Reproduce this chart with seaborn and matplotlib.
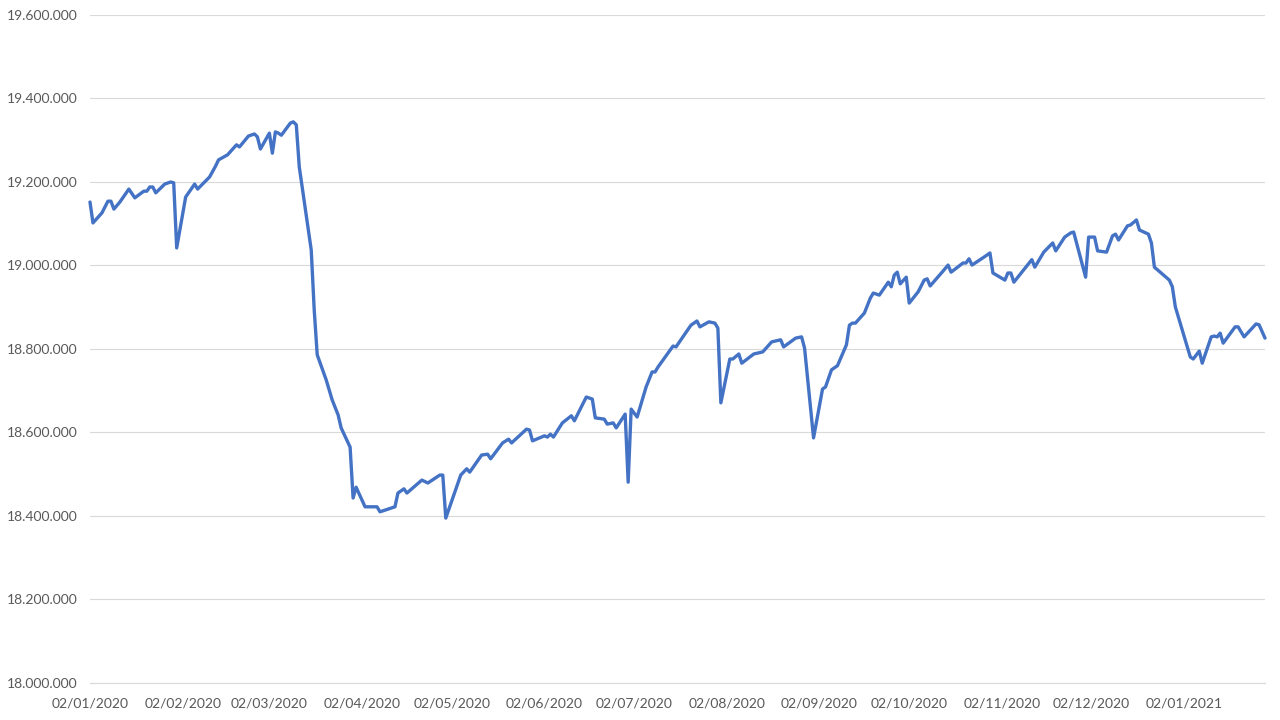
import pandas as pd
import matplotlib
matplotlib.use("Agg")
import matplotlib.pyplot as plt
import matplotlib.dates as mdates
import matplotlib.ticker as mticker
import seaborn as sns

# Values (vertices of the line)
dates = [
    "2020-01-02", "2020-01-03", "2020-01-06", "2020-01-08", "2020-01-09", "2020-01-10",
    "2020-01-12", "2020-01-15", "2020-01-17", "2020-01-20", "2020-01-21", "2020-01-22",
    "2020-01-23", "2020-01-24", "2020-01-27", "2020-01-29", "2020-01-30", "2020-01-31",
    "2020-02-03", "2020-02-06", "2020-02-07", "2020-02-11", "2020-02-13", "2020-02-14",
    "2020-02-17", "2020-02-20", "2020-02-21", "2020-02-24", "2020-02-26", "2020-02-27",
    "2020-02-28", "2020-03-02", "2020-03-03", "2020-03-04", "2020-03-05", "2020-03-06",
    "2020-03-09", "2020-03-10", "2020-03-11", "2020-03-12", "2020-03-16", "2020-03-17",
    "2020-03-18", "2020-03-21", "2020-03-23", "2020-03-25", "2020-03-26", "2020-03-29",
    "2020-03-30", "2020-03-31", "2020-04-03", "2020-04-07", "2020-04-08", "2020-04-13",
    "2020-04-14", "2020-04-16", "2020-04-17", "2020-04-22", "2020-04-24", "2020-04-28",
    "2020-04-29", "2020-04-30", "2020-05-05", "2020-05-07", "2020-05-08", "2020-05-12",
    "2020-05-14", "2020-05-15", "2020-05-19", "2020-05-21", "2020-05-22", "2020-05-27",
    "2020-05-28", "2020-05-29", "2020-06-02", "2020-06-03", "2020-06-04", "2020-06-05",
    "2020-06-08", "2020-06-11", "2020-06-12", "2020-06-16", "2020-06-18", "2020-06-19",
    "2020-06-22", "2020-06-23", "2020-06-25", "2020-06-26", "2020-06-29", "2020-06-30",
    "2020-07-01", "2020-07-03", "2020-07-06", "2020-07-08", "2020-07-09", "2020-07-10",
    "2020-07-15", "2020-07-16", "2020-07-21", "2020-07-23", "2020-07-24", "2020-07-27",
    "2020-07-29", "2020-07-30", "2020-07-31", "2020-08-03", "2020-08-04", "2020-08-06",
    "2020-08-07", "2020-08-11", "2020-08-14", "2020-08-17", "2020-08-20", "2020-08-21",
    "2020-08-25", "2020-08-27", "2020-08-28", "2020-08-31", "2020-09-03", "2020-09-04",
    "2020-09-06", "2020-09-08", "2020-09-11", "2020-09-12", "2020-09-13", "2020-09-14",
    "2020-09-17", "2020-09-19", "2020-09-20", "2020-09-22", "2020-09-25", "2020-09-26",
    "2020-09-27", "2020-09-28", "2020-09-29", "2020-10-01", "2020-10-02", "2020-10-05",
    "2020-10-07", "2020-10-08", "2020-10-09", "2020-10-13", "2020-10-15", "2020-10-16",
    "2020-10-20", "2020-10-21", "2020-10-22", "2020-10-23", "2020-10-27", "2020-10-29",
    "2020-10-30", "2020-11-03", "2020-11-04", "2020-11-05", "2020-11-06", "2020-11-12",
    "2020-11-13", "2020-11-16", "2020-11-19", "2020-11-20", "2020-11-23", "2020-11-25",
    "2020-11-26", "2020-11-30", "2020-12-01", "2020-12-03", "2020-12-04", "2020-12-07",
    "2020-12-09", "2020-12-10", "2020-12-11", "2020-12-14", "2020-12-15", "2020-12-17",
    "2020-12-18", "2020-12-21", "2020-12-22", "2020-12-23", "2020-12-28", "2020-12-29",
    "2020-12-30", "2021-01-04", "2021-01-05", "2021-01-07", "2021-01-08", "2021-01-11",
    "2021-01-12", "2021-01-13", "2021-01-14", "2021-01-15", "2021-01-19", "2021-01-20",
    "2021-01-22", "2021-01-26", "2021-01-27", "2021-01-29",
]

values = [
    19152000, 19102000, 19126000, 19154000, 19154000, 19135000,
    19152000, 19183000, 19162000, 19178000, 19178000, 19188000,
    19188000, 19174000, 19195000, 19200000, 19198000, 19042000,
    19164000, 19195000, 19183000, 19212000, 19238000, 19253000,
    19265000, 19289000, 19284000, 19310000, 19315000, 19308000,
    19279000, 19317000, 19269000, 19320000, 19317000, 19312000,
    19341000, 19344000, 19337000, 19236000, 19037000, 18893000,
    18786000, 18726000, 18678000, 18642000, 18611000, 18565000,
    18443000, 18469000, 18422000, 18422000, 18410000, 18422000,
    18455000, 18465000, 18455000, 18486000, 18479000, 18498000,
    18498000, 18395000, 18498000, 18513000, 18505000, 18546000,
    18548000, 18537000, 18575000, 18584000, 18575000, 18608000,
    18606000, 18580000, 18592000, 18589000, 18596000, 18589000,
    18623000, 18640000, 18628000, 18685000, 18680000, 18635000,
    18632000, 18620000, 18623000, 18611000, 18644000, 18481000,
    18656000, 18637000, 18709000, 18745000, 18745000, 18757000,
    18807000, 18805000, 18857000, 18867000, 18853000, 18865000,
    18862000, 18850000, 18671000, 18776000, 18776000, 18788000,
    18766000, 18788000, 18793000, 18817000, 18822000, 18805000,
    18826000, 18829000, 18802000, 18587000, 18704000, 18709000,
    18750000, 18760000, 18810000, 18857000, 18862000, 18862000,
    18886000, 18922000, 18934000, 18929000, 18960000, 18949000,
    18977000, 18984000, 18956000, 18972000, 18910000, 18937000,
    18965000, 18968000, 18951000, 18984000, 19001000, 18984000,
    19006000, 19006000, 19016000, 19001000, 19020000, 19030000,
    18982000, 18965000, 18982000, 18982000, 18960000, 19014000,
    18996000, 19032000, 19054000, 19035000, 19068000, 19078000,
    19080000, 18972000, 19068000, 19068000, 19035000, 19032000,
    19071000, 19075000, 19061000, 19095000, 19097000, 19109000,
    19085000, 19075000, 19054000, 18996000, 18965000, 18949000,
    18901000, 18781000, 18776000, 18795000, 18766000, 18829000,
    18831000, 18829000, 18838000, 18814000, 18853000, 18853000,
    18829000, 18860000, 18858000, 18826000,
]

# monthly tick positions (2nd of each month) and y range
tick_dates = pd.date_range("2020-01-01", "2021-01-01", freq="MS") + pd.Timedelta(days=1)
y_ticks = list(range(18000000, 19600001, 200000))

df = pd.DataFrame({"date": pd.to_datetime(dates), "value": values})

sns.set_theme(style="white")
plt.rcParams["font.family"] = ["Lato", "DejaVu Sans"]

text_color = "#595959"
grid_color = "#D9D9D9"

fig = plt.figure(figsize=(12.8, 7.2), dpi=100)
ax = fig.add_axes([0.0703, 0.0514, 0.9180, 0.9278])

sns.lineplot(data=df, x="date", y="value", ax=ax, color="#4472C4",
             linewidth=2.4, clip_on=False)

ax.set_xlim(df["date"].iloc[0], df["date"].iloc[-1])
ax.set_ylim(y_ticks[0], y_ticks[-1])
ax.set_yticks(y_ticks)
ax.yaxis.set_major_formatter(
    mticker.FuncFormatter(lambda v, _: f"{v:,.0f}".replace(",", ".")))
ax.set_xticks(tick_dates)
ax.xaxis.set_major_formatter(mdates.DateFormatter("%d/%m/%Y"))

ax.grid(axis="y", color=grid_color, linewidth=0.8)
ax.set_axisbelow(True)
for side in ["left", "top", "right"]:
    ax.spines[side].set_visible(False)
ax.spines["bottom"].set_color(grid_color)
ax.spines["bottom"].set_linewidth(0.8)

ax.tick_params(axis="x", length=4, width=0.8, color=grid_color,
               labelcolor=text_color, labelsize=10, pad=6.5, direction="out")
ax.tick_params(axis="y", length=0, labelcolor=text_color, labelsize=10, pad=9)
ax.set_xlabel("")
ax.set_ylabel("")

fig.savefig("out.png", dpi=100)
